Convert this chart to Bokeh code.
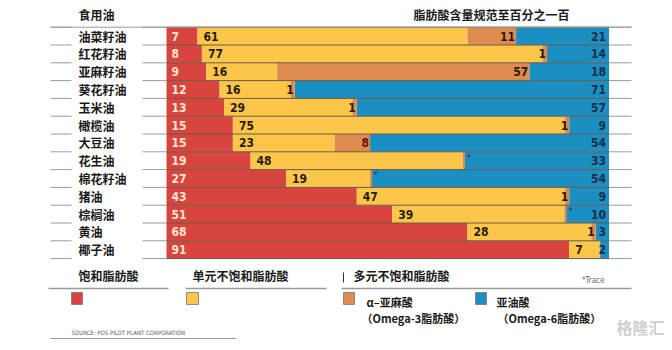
from bokeh.plotting import figure
from bokeh.models import Range1d, ColumnDataSource, Label
from bokeh.core.properties import value
from bokeh.embed import file_html
from bokeh.resources import INLINE

# ---------------- data ----------------
oils = ["油菜籽油", "红花籽油", "亚麻籽油", "葵花籽油", "玉米油", "橄榄油", "大豆油",
        "花生油", "棉花籽油", "猪油", "棕榈油", "黄油", "椰子油"]
saturated = [7, 8, 9, 12, 13, 15, 15, 19, 27, 43, 51, 68, 91]
mono = [61, 77, 16, 16, 29, 75, 23, 48, 19, 47, 39, 28, 7]
alpha_lin = [11, 1, 57, 1, 1, 1, 8, 0, 0, 1, 0, 1, 0]
trace = [False, False, False, False, False, False, False, True, True, False, True, False, False]
linoleic = [21, 14, 18, 71, 57, 9, 54, 33, 54, 9, 10, 3, 2]

title = "脂肪酸含量规范至百分之一百"
header = "食用油"
legend_sat = "饱和脂肪酸"
legend_mono = "单元不饱和脂肪酸"
legend_poly = "多元不饱和脂肪酸"
legend_ala = ["α–亚麻酸", "（Omega-3脂肪酸）"]
legend_la = ["亚油酸", "（Omega-6脂肪酸）"]
trace_note = "*Trace"
source_note = "SOURCE: POS PILOT PLANT CORPORATION"

# ---------------- styles / layout ----------------
RED, YEL, ORA, BLU = "#d8453f", "#fcc64b", "#df8b50", "#1b8fc2"
CJK = "Noto Sans CJK SC"
NUM = "DejaVu Sans Condensed"
W, H = 672, 350
X0, PXU = 166.0, 4.425        # pixel of 0 %, pixels per %
TOP, RH = 26.7, 17.8          # top of first row, row height (px)


def X(px):
    return (px - X0) / PXU


def Y(py):
    return (py - TOP) / RH - 0.5


p = figure(width=W, height=H, output_backend="svg", toolbar_location=None,
           x_range=Range1d(X(0), X(W)), y_range=Range1d(Y(H), Y(0)),
           x_axis_type=None, y_axis_type=None, min_border=0)
p.outline_line_color = None
p.xgrid.visible = False
p.ygrid.visible = False
p.background_fill_color = "white"
p.border_fill_color = "white"

n = len(oils)
rows = list(range(n))
c1 = saturated
c2 = [s + m for s, m in zip(saturated, mono)]
c3 = [a + b for a, b in zip(c2, alpha_lin)]
blue_left = [100 - l for l in linoleic]

src = ColumnDataSource(dict(
    y=rows, s0=[0] * n, c1=c1, c2=c2, c3=c3, bl=blue_left, end=[100] * n,
    sat=[str(v) for v in saturated], mono=[str(v) for v in mono],
    lin=[str(v) for v in linoleic], oil=oils,
))

p.hbar(y="y", left="s0", right="c1", height=1.0, color=RED, line_color=None, source=src)
p.hbar(y="y", left="c1", right="c2", height=1.0, color=YEL, line_color=None, source=src)
p.hbar(y="y", left="bl", right="end", height=1.0, color=BLU, line_color=None, source=src)

# alpha-linolenic segments (real + trace slivers)
a_rows, a_left, a_right, a_txt, a_col = [], [], [], [], []
t_rows, t_x = [], []
for i in rows:
    if alpha_lin[i] > 0:
        a_rows.append(i); a_left.append(c2[i]); a_right.append(c3[i])
        a_txt.append(str(alpha_lin[i]))
        a_col.append("#5a1a10" if alpha_lin[i] == 8 else "#2a1a0c")
    elif trace[i]:
        a_rows.append(i); a_left.append(c2[i]); a_right.append(c2[i] + 0.45)
        a_txt.append(""); a_col.append("#2a1a0c")
        t_rows.append(i); t_x.append(c2[i] + 0.45)
asrc = ColumnDataSource(dict(y=a_rows, l=a_left, r=a_right, t=a_txt, c=a_col))
p.hbar(y="y", left="l", right="r", height=1.0, color=ORA, line_color=None, source=asrc)

# row separators
bounds = [i - 0.5 for i in range(n + 1)]
p.segment(x0=[0] * len(bounds), x1=[100] * len(bounds), y0=bounds, y1=bounds,
          line_color="#6a5a48", line_width=1)
p.segment(x0=[X(50)] * len(bounds), x1=[X(71)] * len(bounds), y0=bounds, y1=bounds,
          line_color="#9a9a9a", line_width=1)
p.segment(x0=[X(142)] * len(bounds), x1=[0] * len(bounds), y0=bounds, y1=bounds,
          line_color="#9a9a9a", line_width=1)
p.segment(x0=[100] * len(bounds), x1=[X(631)] * len(bounds), y0=bounds, y1=bounds,
          line_color="#9a9a9a", line_width=1)
p.segment(x0=[X(50)], x1=[X(631)], y0=[-0.5], y1=[-0.5], line_color="#9a9a9a", line_width=1)

# numbers
num_kw = dict(text_font=value(NUM), text_font_style="bold", text_font_size="12px",
              text_baseline="middle", source=src)
p.text(x="s0", y="y", text="sat", text_align="left", x_offset=5, text_color="#fbe6d8", **num_kw)
p.text(x="c1", y="y", text="mono", text_align="left", x_offset=6, text_color="#2a1a0c", **num_kw)
p.text(x="end", y="y", text="lin", text_align="right", x_offset=-3, text_color="#1c2c4c", **num_kw)
p.text(x="r", y="y", text="t", text_align="right", x_offset=-1, text_color="c",
       text_font=value(NUM), text_font_style="bold", text_font_size="12px",
       text_baseline="middle", source=asrc)
p.text(x=t_x, y=[r - 0.15 for r in t_rows], text=["*"] * len(t_rows), text_align="left",
       x_offset=2, text_color="#1c2c4c", text_font=value(NUM), text_font_size="8px",
       text_baseline="middle")

# oil names
p.text(x=[X(78)] * n, y=rows, text=oils, text_align="left", text_baseline="middle",
       text_font=value(CJK), text_font_style="bold", text_font_size="12px",
       text_color="#1a1a1a")


def lab(px, py, txt, size="12px", color="#1a1a1a", font=CJK, style="bold", align="left"):
    p.add_layout(Label(x=X(px), y=Y(py), text=txt, text_font=font, text_font_size=size,
                       text_font_style=style, text_color=color, text_align=align,
                       text_baseline="middle"))


lab(78, 14, header)
lab(491, 14, title, align="center")

# legend
lab(78, 275, legend_sat)
lab(192, 275, legend_mono)
lab(353, 275, legend_poly)
lab(604, 280, trace_note, size="8px", color="#666666", font=NUM, style="normal", align="right")
p.segment(x0=[X(48), X(185), X(341)], x1=[X(168), X(326), X(631)],
          y0=[Y(288)] * 3, y1=[Y(288)] * 3, line_color="#9a9a9a", line_width=1.5)
p.segment(x0=[X(343)], x1=[X(343)], y0=[Y(272)], y1=[Y(282)], line_color="#333333", line_width=1)

sq_x = [X(71), X(186), X(343), X(475)]
p.quad(left=sq_x, right=[X(82), X(198), X(354), X(486)],
       top=[Y(292)] * 4, bottom=[Y(304)] * 4,
       fill_color=[RED, YEL, ORA, BLU], line_color="#777777", line_width=0.8)

lab(366, 301, legend_ala[0], size="11px")
lab(361, 317, legend_ala[1], size="11px")
lab(496, 301, legend_la[0], size="11px")
lab(497, 317, legend_la[1], size="11px")

lab(71, 332, source_note, size="6px", color="#555555", font=NUM, style="normal")
p.segment(x0=[X(50)], x1=[X(236)], y0=[Y(338)], y1=[Y(338)], line_color="#9a9a9a", line_width=1.2)

# watermark
lab(640, 326, "格隆汇", size="16px", color="#cfcfcf", align="center")

open("out.html", "w").write(file_html(p, INLINE))
